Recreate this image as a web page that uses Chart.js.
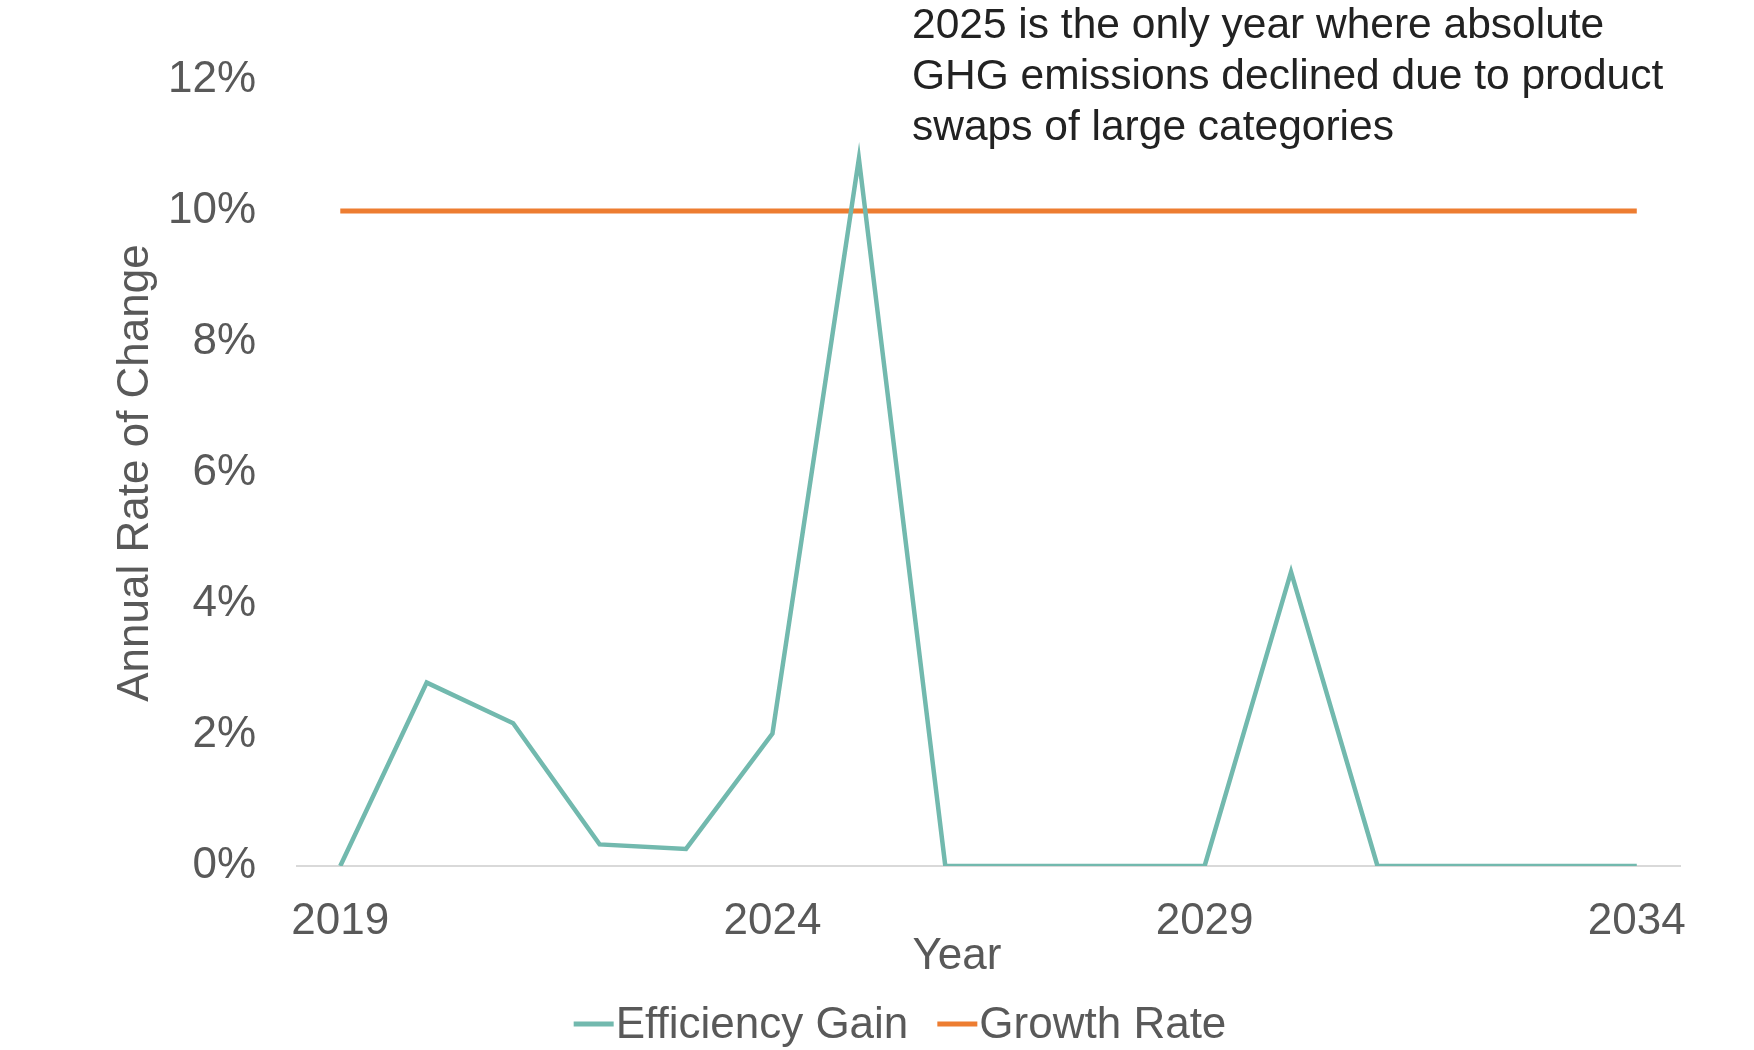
<!DOCTYPE html>
<html>
<head>
<meta charset="utf-8">
<script src="https://cdn.jsdelivr.net/npm/chart.js@4.4.1/dist/chart.umd.min.js"></script>
<style>
  html, body { margin: 0; padding: 0; background: #fff; }
  #wrap { width: 1754px; height: 1050px; position: relative; }
</style>
</head>
<body>
<div id="wrap"><canvas id="rateChart" width="1754" height="1050"></canvas></div>
<script>
// Years on the x axis
const years = ['2019', '2020', '2021', '2022', '2023', '2024', '2025', '2026',
               '2027', '2028', '2029', '2030', '2031', '2032', '2033', '2034'];

// Annual rate of change, in percent
const efficiencyGain = [0, 2.8, 2.18, 0.33, 0.26, 2.02, 10.8, 0, 0, 0, 0, 4.49, 0, 0, 0, 0];
const growthRate = [10, 10, 10, 10, 10, 10, 10, 10, 10, 10, 10, 10, 10, 10, 10, 10];

const yTicks = [0, 2, 4, 6, 8, 10, 12];

const noteLines = [
    '2025 is the only year where absolute',
    'GHG emissions declined due to product',
    'swaps of large categories'
];

const FONT = 'Liberation Sans, Arial, Helvetica, sans-serif';
const GREY = '#595959';

// Callout text in the top right, plus the x axis title (sits left of the plot centre)
const notePlugin = {
    id: 'note',
    afterDraw(chart) {
        const ctx = chart.ctx;
        ctx.save();
        ctx.font = '42.5px ' + FONT;
        ctx.fillStyle = '#222222';
        ctx.textBaseline = 'middle';
        ctx.textAlign = 'left';
        noteLines.forEach((line, i) => ctx.fillText(line, 912, 26 + i * 51));

        ctx.font = '44px ' + FONT;
        ctx.fillStyle = GREY;
        ctx.textAlign = 'center';
        ctx.fillText('Year', 957, chart.chartArea.bottom + 91);
        ctx.restore();
    }
};

// Legend: short line swatch right against its label
const lineLegend = {
    id: 'lineLegend',
    afterDraw(chart) {
        const ctx = chart.ctx;
        const sw = 40, gap = 2, itemGap = 29, y = 1024;
        ctx.save();
        ctx.font = '44px ' + FONT;
        ctx.textBaseline = 'middle';
        const items = chart.data.datasets.map(ds => ({
            text: ds.label, color: ds.borderColor, w: ctx.measureText(ds.label).width
        }));
        const total = items.reduce((s, it) => s + sw + gap + it.w, 0) + itemGap * (items.length - 1);
        let x = 900 - total / 2;
        items.forEach(it => {
            ctx.strokeStyle = it.color;
            ctx.lineWidth = 5;
            ctx.beginPath();
            ctx.moveTo(x, y);
            ctx.lineTo(x + sw, y);
            ctx.stroke();
            ctx.fillStyle = GREY;
            ctx.fillText(it.text, x + sw + gap, y + 2);
            x += sw + gap + it.w + itemGap;
        });
        ctx.restore();
    }
};

new Chart(document.getElementById('rateChart'), {
    type: 'line',
    data: {
        labels: years,
        datasets: [
            {
                label: 'Efficiency Gain',
                data: efficiencyGain,
                borderColor: '#72b9ae',
                borderWidth: 4.5,
                pointRadius: 0,
                tension: 0
            },
            {
                label: 'Growth Rate',
                data: growthRate,
                borderColor: '#ed7d31',
                borderWidth: 5,
                pointRadius: 0,
                tension: 0
            }
        ]
    },
    options: {
        responsive: false,
        animation: false,
        layout: { padding: { left: 114, right: 74, top: 80, bottom: 80 } },
        plugins: {
            legend: { display: false },
            tooltip: { enabled: false }
        },
        scales: {
            x: {
                offset: true,
                grid: { display: false },
                border: { display: true, color: '#d9d9d9', width: 2 },
                ticks: {
                    autoSkip: false,
                    maxRotation: 0,
                    padding: 26,
                    color: GREY,
                    font: { family: FONT, size: 44, lineHeight: 1 },
                    callback: function (value, index) {
                        return index % 5 === 0 ? this.getLabelForValue(value) : '';
                    }
                },
                title: { display: false }
            },
            y: {
                min: 0,
                max: 12,
                grid: { display: false },
                border: { display: false },
                afterBuildTicks: axis => { axis.ticks = yTicks.map(v => ({ value: v })); },
                ticks: {
                    padding: 33,
                    color: GREY,
                    font: { family: FONT, size: 44, lineHeight: 1 },
                    callback: v => v + '%'
                },
                title: {
                    display: true,
                    text: 'Annual Rate of Change',
                    color: GREY,
                    padding: { top: 0, bottom: -23 },
                    font: { family: FONT, size: 44, lineHeight: 1 }
                }
            }
        }
    },
    plugins: [notePlugin, lineLegend]
});
</script>
</body>
</html>
